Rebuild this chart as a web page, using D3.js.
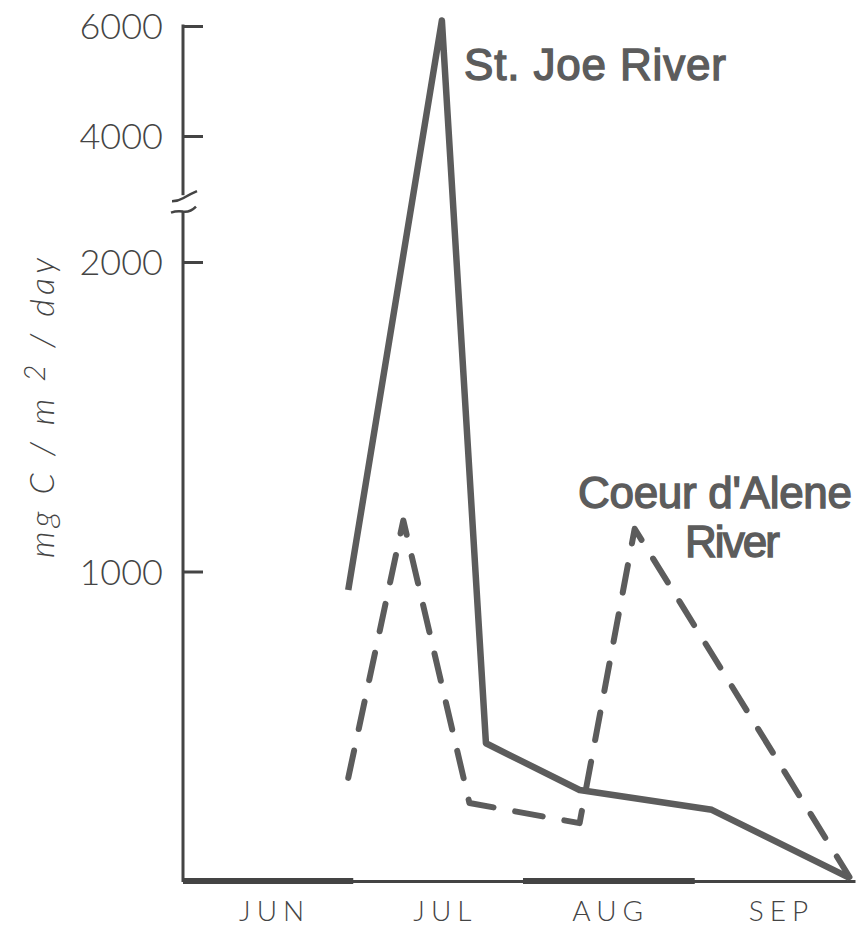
<!DOCTYPE html>
<html>
<head>
<meta charset="utf-8">
<script src="https://cdn.jsdelivr.net/npm/d3@7"></script>
<style>
  body { margin: 0; background: #fff; }
  svg { display: block; }
</style>
</head>
<body>
<script>
// Daily primary production, St. Joe and Coeur d'Alene rivers (mg C / m² / day)
const stJoeDates   = ["2001-07-01", "2001-07-18", "2001-07-26", "2001-08-12", "2001-09-05", "2001-09-30"];
const stJoeValues  = [940, 6100, 445, 294, 230, 10];

const coeurDates   = ["2001-07-01", "2001-07-11", "2001-07-23", "2001-08-12", "2001-08-22", "2001-09-30"];
const coeurValues  = [333, 1165, 252, 187, 1138, 13];

const yTickValues  = [1000, 2000, 4000, 6000];
const monthNames   = ["JUN", "JUL", "AUG", "SEP"];
const monthLabelDates = ["2001-06-17", "2001-07-18", "2001-08-17", "2001-09-17"];
const monthStarts  = ["2001-06-01", "2001-07-01", "2001-08-01", "2001-09-01", "2001-10-01"];

const W = 856, H = 930;
const ink = "#5c5c5c";
const parse = d3.timeParse("%Y-%m-%d");

const svg = d3.select("body").append("svg")
  .attr("width", W).attr("height", H);

// x: calendar time, June 1 to October 1
const x = d3.scaleTime()
  .domain([parse(monthStarts[0]), parse(monthStarts[4])])
  .range([183, 855]);

// y: broken scale, 0–2000 stretched, 4000–6000 compressed above the break
const y = d3.scaleLinear()
  .domain([0, 2000, 4000, 6000])
  .range([881, 262, 136, 26]);

// ---- y axis ----
const yAxis = d3.axisLeft(y)
  .tickValues(yTickValues)
  .tickSizeInner(-20)
  .tickSizeOuter(0)
  .tickPadding(20)
  .tickFormat(d3.format("d"));

const gy = svg.append("g").attr("transform", "translate(183,0)").call(yAxis);
gy.select(".domain").remove();
gy.selectAll(".tick line").attr("stroke", "#444").attr("stroke-width", 3);
gy.selectAll(".tick text")
  .attr("fill", "#444")
  .attr("font-family", "Lato, 'DejaVu Sans', sans-serif")
  .attr("font-weight", 300)
  .attr("font-size", 36)
  .attr("dy", "0.36em");

// axis line in two pieces with break marks
const breakLow = 2800, breakHigh = 3060;
svg.append("line")
  .attr("x1", 183).attr("x2", 183)
  .attr("y1", y(0) + 1).attr("y2", y(breakLow))
  .attr("stroke", "#444").attr("stroke-width", 3);
svg.append("line")
  .attr("x1", 183).attr("x2", 183)
  .attr("y1", y(breakHigh)).attr("y2", y(6000) - 1.5)
  .attr("stroke", "#444").attr("stroke-width", 3);

const yl = y(breakLow), yh = y(breakHigh);
svg.append("path")
  .attr("d", `M171,${yl + 1} Q177,${yl - 1} 183,${yl} Q190,${yl + 1} 196,${yl - 5}`)
  .attr("fill", "none").attr("stroke", "#444").attr("stroke-width", 2.5);
svg.append("path")
  .attr("d", `M172,${yh + 6} Q178,${yh + 6} 183,${yh + 3} Q190,${yh - 1} 197,${yh - 4}`)
  .attr("fill", "none").attr("stroke", "#444").attr("stroke-width", 2.5);

// ---- x axis ----
const xAxis = d3.axisBottom(x)
  .tickValues(monthLabelDates.map(parse))
  .tickSize(0)
  .tickPadding(16)
  .tickFormat((d, i) => monthNames[i]);

const gx = svg.append("g").attr("transform", `translate(0,${y(0)})`).call(xAxis);
gx.select(".domain").attr("stroke", "#444").attr("stroke-width", 3);
gx.selectAll(".tick text")
  .attr("fill", "#444")
  .attr("font-family", "Lato, 'DejaVu Sans', sans-serif")
  .attr("font-weight", 300)
  .attr("font-size", 28)
  .attr("letter-spacing", 6)
  .attr("dx", 3)
  .attr("dy", "0.85em");

// heavier baseline under June and August
const bands = [[monthStarts[0], monthStarts[1]], [monthStarts[2], monthStarts[3]]];
svg.append("g").selectAll("line").data(bands).join("line")
  .attr("x1", d => x(parse(d[0])) + (d[0] === monthStarts[0] ? 0 : 4))
  .attr("x2", d => x(parse(d[1])) + 5)
  .attr("y1", y(0)).attr("y2", y(0))
  .attr("stroke", "#444").attr("stroke-width", 6);

// ---- series ----
const line = d3.line()
  .x(d => x(d.date))
  .y(d => y(d.value));

const stJoe = stJoeDates.map((d, i) => ({ date: parse(d), value: stJoeValues[i] }));
const coeur = coeurDates.map((d, i) => ({ date: parse(d), value: coeurValues[i] }));

svg.append("path")
  .datum(coeur)
  .attr("d", line)
  .attr("fill", "none")
  .attr("stroke", ink)
  .attr("stroke-width", 6)
  .attr("stroke-linecap", "round")
  .attr("stroke-linejoin", "round")
  .attr("stroke-dasharray", "28 22");

svg.append("path")
  .datum(stJoe)
  .attr("d", line)
  .attr("fill", "none")
  .attr("stroke", ink)
  .attr("stroke-width", 6.5)
  .attr("stroke-linecap", "butt")
  .attr("stroke-linejoin", "round");

// ---- series labels ----
function seriesLabel(txt, px, py, len) {
  svg.append("text")
    .attr("x", px).attr("y", py)
    .attr("font-family", "'Liberation Sans', Arial, sans-serif")
    .attr("font-weight", 400)
    .attr("font-size", 44)
    .attr("fill", ink)
    .attr("stroke", ink)
    .attr("stroke-width", 1.4)
    .attr("textLength", len)
    .attr("lengthAdjust", "spacing")
    .text(txt);
}
seriesLabel("St. Joe River", 464, 80, 262);
seriesLabel("Coeur d'Alene", 578, 508, 274);
seriesLabel("River", 685, 557, 95);

// ---- y axis title ----
const yt = svg.append("text")
  .attr("transform", "translate(54,408) rotate(-90)")
  .attr("text-anchor", "middle")
  .attr("font-family", "Lato, 'DejaVu Sans', sans-serif")
  .attr("font-style", "italic")
  .attr("font-weight", 300)
  .attr("font-size", 34)
  .attr("fill", "#444")
  .attr("textLength", 300)
  .attr("lengthAdjust", "spacing");
yt.append("tspan").text("mg C / m ");
yt.append("tspan").attr("dy", -9).attr("font-size", 29).text("2");
yt.append("tspan").attr("dy", 9).text(" / day");
</script>
</body>
</html>
